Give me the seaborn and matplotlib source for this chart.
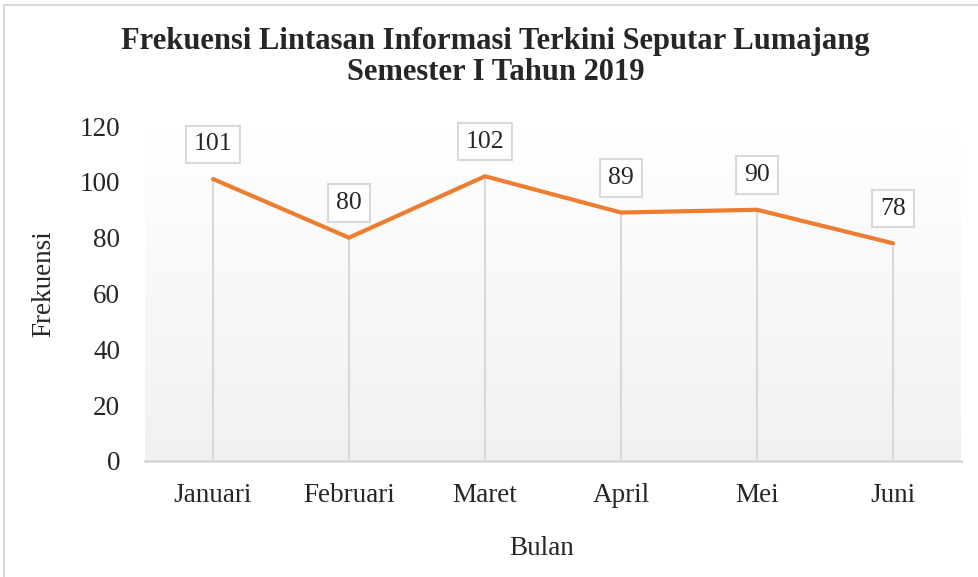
import numpy as np
import matplotlib.pyplot as plt
import seaborn as sns
from matplotlib.patches import Rectangle

# data
bulan = ['Januari', 'Februari', 'Maret', 'April', 'Mei', 'Juni']
frekuensi = [101, 80, 102, 89, 90, 78]
y_ticks = [0, 20, 40, 60, 80, 100, 120]

sns.set_style('white')
plt.rcParams['font.family'] = ['Liberation Serif', 'DejaVu Serif']

fig = plt.figure(figsize=(9.79, 5.77), dpi=100)
ax = fig.add_axes([145 / 979, 116 / 577, 816 / 979, 335 / 577])

# gradient plot area (white at top, light grey at bottom)
grad = np.linspace(0, 1, 256).reshape(-1, 1)
ax.imshow(grad, extent=(-0.5, 5.5, 0, 120), aspect='auto', origin='upper',
          cmap=plt.matplotlib.colors.LinearSegmentedColormap.from_list('g', ['#ffffff', '#f1f1f1']),
          zorder=0)

pos = np.arange(len(bulan))
ax.vlines(pos, 0, frekuensi, colors='#d9d9d9', linewidth=1.5, zorder=1)
sns.lineplot(x=bulan, y=frekuensi, sort=False, color='#ED7D31', linewidth=3, ax=ax, zorder=3)

for x, v in zip(pos, frekuensi):
    ax.annotate(str(v), (x, v), xytext=(0, 25), textcoords='offset points',
                ha='center', va='center', fontsize=18.5, zorder=4,
                bbox=dict(boxstyle='square,pad=0.3', fc='white', ec='#d9d9d9', lw=1.5))

ax.set_xlim(-0.5, 5.5)
ax.set_ylim(0, 120)
ax.set_yticks(y_ticks)
ax.set_xticks(pos)
ax.set_xticklabels(bulan)
ax.tick_params(axis='both', length=0, labelsize=19.5)
ax.tick_params(axis='y', pad=18)
ax.tick_params(axis='x', pad=16)

for s in ['top', 'right', 'left']:
    ax.spines[s].set_visible(False)
ax.spines['bottom'].set_color('#d9d9d9')
ax.spines['bottom'].set_linewidth(2)
ax.spines['bottom'].set_zorder(2)

ax.set_ylabel('Frekuensi', fontsize=19.5)
ax.yaxis.set_label_coords(-0.124, 0.53)
ax.set_xlabel('Bulan', fontsize=19.5)
ax.xaxis.set_label_coords(0.4865, -0.26)
ax.xaxis.label.set_va('center')
ax.yaxis.label.set_va('center')

fig.text(0.506, 1 - 57 / 577,
         'Frekuensi Lintasan Informasi Terkini Seputar Lumajang\nSemester I Tahun 2019',
         ha='center', va='center', fontsize=22, fontweight='bold', linespacing=1.1)

# chart border
fig.patches.append(Rectangle((4 / 979, -0.05), 1.0, 1 - 5 / 577 + 0.05, transform=fig.transFigure,
                             fill=False, ec='#d9d9d9', lw=1.5))

fig.savefig('out.png', dpi=100)
